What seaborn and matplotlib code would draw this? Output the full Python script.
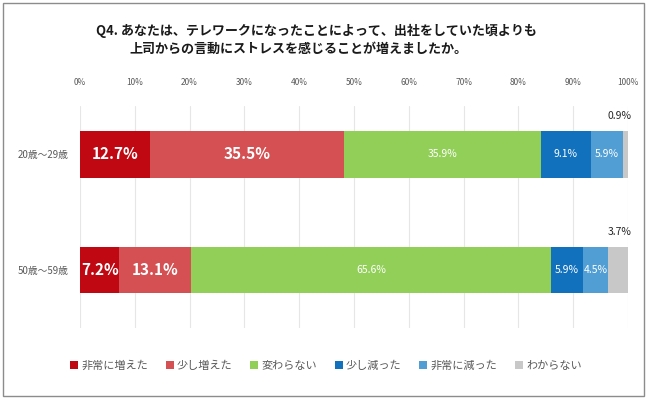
import numpy as np
import pandas as pd
import matplotlib
matplotlib.use("Agg")
import matplotlib.pyplot as plt
from matplotlib.patches import Rectangle, Patch
import seaborn as sns

sns.set_style("white")
plt.rcParams['font.family'] = ['Noto Sans CJK JP', 'DejaVu Sans']

ages = ["20歳〜29歳", "50歳〜59歳"]
categories = ["非常に増えた", "少し増えた", "変わらない", "少し減った", "非常に減った", "わからない"]
vals_20s = [12.7, 35.5, 35.9, 9.1, 5.9, 0.9]
vals_50s = [7.2, 13.1, 65.6, 5.9, 4.5, 3.7]
colors = ["#C00812", "#D55052", "#92CF58", "#1271BC", "#509ED4", "#C8C8C8"]
tick_labels = ["0%", "10%", "20%", "30%", "40%", "50%", "60%", "70%", "80%", "90%", "100%"]
title1 = "Q4. あなたは、テレワークになったことによって、出社をしていた頃よりも"
title2 = "上司からの言動にストレスを感じることが増えましたか。"

W, H = 650, 401
fig = plt.figure(figsize=(W / 100, H / 100), dpi=100)
ax = fig.add_axes([80 / W, 1 - 328 / H, 548 / W, 222 / H])

data = np.array([vals_20s, vals_50s])
cum = np.cumsum(data, axis=1)

# stacked bars: draw cumulative totals from largest to smallest
for i in range(len(categories) - 1, -1, -1):
    df = pd.DataFrame({"age": ages, "cum": cum[:, i]})
    sns.barplot(data=df, x="cum", y="age", color=colors[i], saturation=1,
                width=0.405, linewidth=0, orient="h", ax=ax)

ax.set_xlim(0, 100)
ax.set_ylim(1.5, -0.414)
ax.set_xticks(np.arange(0, 101, 10))
ax.set_xticklabels(tick_labels)
ax.xaxis.tick_top()
ax.tick_params(axis="x", length=0, pad=14, labelsize=6, labelcolor="#595959")
ax.tick_params(axis="y", length=0, pad=8, labelsize=7, labelcolor="#595959")
ax.set_xlabel("")
ax.set_ylabel("")
ax.xaxis.grid(True, color="#E6E6E6", lw=0.8)
ax.yaxis.grid(False)
ax.set_axisbelow(True)
for s in ax.spines.values():
    s.set_visible(False)

# value labels
for r in range(len(ages)):
    for i, v in enumerate(data[r]):
        center = cum[r, i] - v / 2
        lab = f"{v:.1f}%"
        if i < 2:
            ax.text(center, r, lab, ha="center", va="center", color="white",
                    fontsize=11, fontweight="bold")
        elif i < 5:
            ax.text(center, r, lab, ha="center", va="center", color="white",
                    fontsize=7.5)
        else:
            ax.text(100.6, r - 0.33, lab, ha="right", va="center", color="#262626",
                    fontsize=7.5)

# title
fig.text(316 / W, 1 - 31 / H, title1, ha="center", va="center", fontsize=9.4,
         fontweight="bold", color="#1a1a1a")
fig.text(298 / W, 1 - 49 / H, title2, ha="center", va="center", fontsize=9.4,
         fontweight="bold", color="#1a1a1a")

# legend
handles = [Patch(facecolor=c, edgecolor="none") for c in colors]
fig.legend(handles, categories, loc="center", bbox_to_anchor=(326 / W, 1 - 366 / H),
           ncol=6, frameon=False, fontsize=8, handlelength=0.7, handleheight=0.7,
           handletextpad=0.3, columnspacing=1.6, labelcolor="#595959")

# outer frame
fig.patches.append(Rectangle((3 / W, 5 / H), 641 / W, 393 / H, transform=fig.transFigure,
                             fill=False, edgecolor="#8C8C8C", lw=1))

fig.savefig("out.png", dpi=100)
